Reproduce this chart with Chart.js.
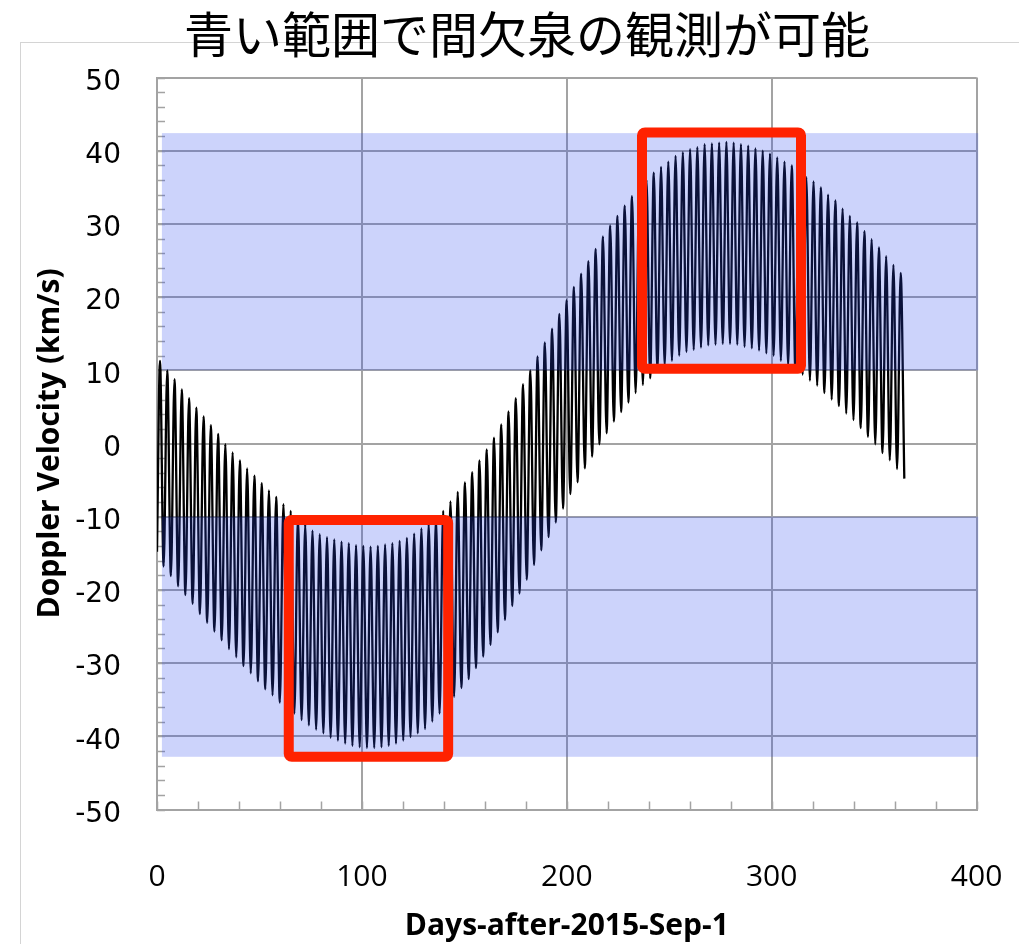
<!DOCTYPE html>
<html>
<head>
<meta charset="utf-8">
<script src="https://cdn.jsdelivr.net/npm/chart.js@4/dist/chart.umd.min.js"></script>
<style>
  html, body { margin: 0; padding: 0; background: #fff; }
  #wrap { position: relative; width: 1019px; height: 944px; overflow: hidden; }
  #frame { position: absolute; left: 20px; top: 42px; width: 1100px; height: 1000px;
           border: 1px solid #d4d4d4; box-sizing: border-box; }
  #title { position: absolute; left: 0; top: 4px; width: 1054px; text-align: center;
           font-family: "Noto Sans CJK JP", "Noto Sans", sans-serif; font-size: 49px;
           line-height: 56px; color: #000; white-space: nowrap; }
  canvas { position: absolute; left: 0; top: 0; }
</style>
</head>
<body>
<div id="wrap">
  <div id="frame"></div>
  <canvas id="chart" width="1019" height="944"></canvas>
  <div id="title">青い範囲で間欠泉の観測が可能</div>
</div>
<script>
// Velocity at the first sample (day 0), km/s
const startVelocity = -14.8;
// Day of the first crest and length of one oscillation cycle (days)
const FIRST_PEAK_DAY = 1.46;
const CYCLE_DAYS = 3.544;

// Crest of each cycle (km/s)
const peakVelocities = [
  11.3, 10.0, 8.8, 7.4, 6.2, 4.9, 3.7, 2.5, 1.3, -0.1,
  -1.2, -2.3, -3.4, -4.4, -5.4, -6.4, -7.3, -8.3, -9.2, -10.1,
  -11.1, -11.9, -12.4, -12.8, -13.1, -13.4, -13.6, -13.9, -14.0, -14.1,
  -14.0, -13.8, -13.6, -13.3, -12.9, -12.3, -11.6, -11.0, -10.3, -9.2,
  -7.9, -6.6, -5.3, -3.9, -2.3, -0.8, 0.8, 2.6, 4.4, 6.2,
  8.1, 10.0, 11.9, 13.8, 15.7, 17.7, 19.6, 21.4, 23.2, 24.9,
  26.6, 28.3, 29.8, 31.1, 32.5, 33.8, 34.9, 36.0, 37.0, 37.8,
  38.5, 39.3, 39.8, 40.2, 40.5, 40.9, 41.0, 41.1, 41.2, 41.1,
  40.9, 40.7, 40.3, 40.0, 39.6, 39.1, 38.5, 38.0, 37.2, 36.4,
  35.8, 35.0, 34.0, 33.2, 32.1, 31.1, 30.2, 29.0, 27.9, 26.8,
  25.6, 24.4, 23.3
];

// Trough of each cycle, half a cycle after its crest (km/s)
const troughVelocities = [
  -16.8, -18.1, -19.5, -20.7, -21.9, -23.3, -24.5, -25.7, -26.9, -28.1,
  -29.2, -30.4, -31.4, -32.5, -33.6, -34.4, -35.4, -36.1, -36.9, -37.8,
  -38.5, -39.1, -39.6, -40.2, -40.6, -41.0, -41.3, -41.5, -41.6, -41.6,
  -41.5, -41.3, -41.0, -40.6, -40.1, -39.6, -39.0, -38.0, -36.9, -35.8,
  -34.6, -33.4, -32.2, -30.7, -29.1, -27.5, -25.8, -24.1, -22.2, -20.5,
  -18.6, -16.6, -14.6, -12.8, -10.8, -8.9, -6.9, -5.3, -3.4, -1.8,
  -0.1, 1.4, 3.0, 4.3, 5.6, 6.9, 8.0, 8.9, 9.8, 10.6,
  11.3, 12.0, 12.5, 12.8, 13.1, 13.4, 13.5, 13.6, 13.6, 13.5,
  13.2, 13.0, 12.7, 12.3, 12.0, 11.3, 10.6, 9.9, 9.4, 8.6,
  7.9, 6.9, 6.0, 5.1, 4.1, 3.2, 2.1, 0.9, -0.1, -1.3,
  -2.3, -3.5, -4.8
];

// Axis ticks
const xTicks = [0, 100, 200, 300, 400];
const yTicks = [-50, -40, -30, -20, -10, 0, 10, 20, 30, 40, 50];
const xMinorStep = 20;
const yMinorStep = 2;

// Velocity windows where the geyser can be observed (shaded in blue)
const observableBands = [
  { x0: 2.4, x1: 400.8, y0: 10, y1: 42.4 },
  { x0: 2.4, x1: 400.8, y0: -42.8, y1: -10 }
];
// Highlighted stretches (red frames)
const highlightBoxes = [
  { x0: 64.3, x1: 142.1, y0: -42.8, y1: -10.45 },
  { x0: 236.7, x1: 314.3, y0: 10.2, y1: 42.5 }
];

const points = [{ x: 0, y: startVelocity }];
peakVelocities.forEach((v, k) => {
  points.push({ x: FIRST_PEAK_DAY + k * CYCLE_DAYS, y: v });
  points.push({ x: FIRST_PEAK_DAY + (k + 0.5) * CYCLE_DAYS, y: troughVelocities[k] });
});

const GRID = '#a3a3a3';

const minorTicks = {
  id: 'minorTicks',
  beforeDatasetsDraw(chart) {
    const { ctx, scales: { x, y } } = chart;
    ctx.save();
    ctx.strokeStyle = GRID;
    ctx.lineWidth = 1.5;
    ctx.beginPath();
    for (let v = y.min; v <= y.max; v += yMinorStep) {
      const py = Math.round(y.getPixelForValue(v)) + 0.5;
      ctx.moveTo(x.left, py);
      ctx.lineTo(x.left + 8, py);
    }
    for (let v = x.min; v <= x.max; v += xMinorStep) {
      const px = Math.round(x.getPixelForValue(v)) + 0.5;
      ctx.moveTo(px, y.bottom);
      ctx.lineTo(px, y.bottom - 8);
    }
    ctx.stroke();
    ctx.restore();
  }
};

const overlays = {
  id: 'overlays',
  afterDatasetsDraw(chart) {
    const { ctx, scales: { x, y } } = chart;
    ctx.save();
    ctx.fillStyle = 'rgba(40, 70, 240, 0.24)';
    observableBands.forEach(b => {
      const l = x.getPixelForValue(b.x0), r = x.getPixelForValue(b.x1);
      const t = y.getPixelForValue(b.y1), bt = y.getPixelForValue(b.y0);
      ctx.fillRect(l, t, r - l, bt - t);
    });
    ctx.strokeStyle = 'rgb(255, 34, 0)';
    ctx.lineWidth = 10;
    ctx.lineJoin = 'round';
    highlightBoxes.forEach(b => {
      const l = x.getPixelForValue(b.x0), r = x.getPixelForValue(b.x1);
      const t = y.getPixelForValue(b.y1), bt = y.getPixelForValue(b.y0);
      ctx.beginPath();
      if (ctx.roundRect) ctx.roundRect(l, t, r - l, bt - t, 3);
      else ctx.rect(l, t, r - l, bt - t);
      ctx.stroke();
    });
    ctx.restore();
  }
};

new Chart(document.getElementById('chart'), {
  type: 'line',
  data: {
    datasets: [{
      data: points,
      borderColor: '#000',
      borderWidth: 2.3,
      pointRadius: 0,
      fill: false,
      cubicInterpolationMode: 'monotone'
    }]
  },
  options: {
    responsive: false,
    animation: false,
    events: [],
    layout: { padding: { left: 0, top: 77.5, right: 0, bottom: 0 } },
    plugins: { legend: { display: false }, tooltip: { enabled: false }, title: { display: false } },
    scales: {
      x: {
        type: 'linear',
        min: 0, max: 400,
        afterBuildTicks(scale) { scale.ticks = xTicks.map(v => ({ value: v })); },
        afterFit(scale) { scale.height = 944 - 809.5; scale.paddingRight = 42.4; },
        grid: { color: GRID, lineWidth: 2, drawTicks: false },
        border: { color: GRID, width: 2 },
        ticks: {
          padding: 50,
          color: '#000',
          maxRotation: 0,
          font: { family: 'Open Sans', size: 30 }
        },
        title: {
          display: true,
          text: 'Days-after-2015-Sep-1',
          color: '#000',
          font: { family: 'Open Sans', size: 30, weight: 'bold' },
          padding: { top: 0, bottom: 0 }
        }
      },
      y: {
        min: -50, max: 50,
        afterBuildTicks(scale) { scale.ticks = yTicks.map(v => ({ value: v })); },
        afterFit(scale) { scale.width = 157; },
        grid: { color: GRID, lineWidth: 2, drawTicks: false },
        border: { color: GRID, width: 2 },
        ticks: {
          padding: 36,
          labelOffset: 5,
          color: '#000',
          font: { family: 'DejaVu Sans', size: 28 }
        },
        title: {
          display: true,
          text: 'Doppler Velocity (km/s)',
          color: '#000',
          font: { family: 'Open Sans', size: 30, weight: 'bold' },
          padding: { top: 32, bottom: 0 }
        }
      }
    }
  },
  plugins: [minorTicks, overlays]
});
</script>
</body>
</html>
